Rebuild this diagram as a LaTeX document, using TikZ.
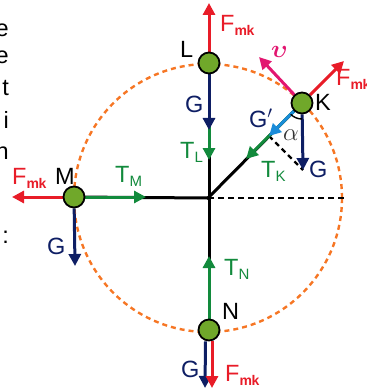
\documentclass[tikz,border=0pt]{standalone}
\usepackage{bm}
\usepackage{fontspec}
\setmainfont{Liberation Sans}
\usepackage{tikz}
\usetikzlibrary{arrows.meta,backgrounds}
\definecolor{forcered}{RGB}{232,28,40}
\definecolor{gnavy}{RGB}{14,30,100}
\definecolor{tgreen}{RGB}{18,138,60}
\definecolor{gblue}{RGB}{26,140,218}
\definecolor{vmagenta}{RGB}{226,22,112}
\definecolor{pathorange}{RGB}{246,118,36}
\definecolor{ballgreen}{RGB}{112,168,42}
\newcommand{\lowsub}[1]{\raisebox{-4pt}{\fontsize{15}{15}\selectfont #1}}
\newcommand{\mksub}{\raisebox{-4pt}{\fontsize{14}{14}\selectfont\bfseries m\kern-0.3pt k}}
\tikzset{
  ball/.style={circle, draw=black, line width=1.8pt, fill=ballgreen, minimum size=21pt, inner sep=0pt},
  rope/.style={line width=3pt, draw=black, line cap=rect},
  force/.style={-{Triangle[length=12pt,width=12pt]}, line width=3pt, draw=#1},
  lbl/.style={font=\fontsize{23.5}{26}\selectfont, text=#1, inner sep=0pt, anchor=base west},
  lbl/.default={black},
  frag/.style={font=\fontsize{23.5}{26}\selectfont, inner sep=0pt, anchor=base east}
}

\begin{document}
\begin{tikzpicture}[x=1pt,y=-1pt]
  \useasboundingbox (0,0) rectangle (366,390);
  \node[frag] (c1) at (9,37) {e};
  \node[frag] (c2) at (9,64) {e};
  \node[frag] (c3) at (9,96) {t};
  \node[frag] (c4) at (9,129) {i};
  \node[frag] (c5) at (9,159) {n};
  \node[frag] (c6) at (9,243) {:};

  \coordinate (O) at (208,198);
  \coordinate (rim) at (345,198);
  \node[ball] (L) at (209,63) {};
  \node[ball] (M) at (74,197) {};
  \node[ball] (N) at (209,330) {};
  \node[ball] (K) at (302,103) {};

  \coordinate (fLtip) at (209,3);
  \coordinate (gLtip) at (209,130);
  \coordinate (tLtip) at (209,160);
  \coordinate (fMtip) at (12,197);
  \coordinate (tMtip) at (146,197);
  \coordinate (gMtip) at (75,266);
  \coordinate (tNtip) at (209,256);
  \coordinate (gNtip) at (205,388);
  \coordinate (fNtip) at (212,388);
  \coordinate (fKtip) at (344,61);
  \coordinate (vKtip) at (259,57);
  \coordinate (gKtip) at (303,170);
  \coordinate (tKtip) at (246,159);
  \coordinate (gpKtip) at (269,136);

  \begin{scope}[on background layer]
    \draw[pathorange, line width=2.4pt, dash pattern=on 5pt off 4pt] (O) circle[radius=134pt];
    \draw[black, line width=2.6pt, dash pattern=on 6pt off 4pt] (O) -- (rim);
    \draw[rope] (L) -- (N);
    \draw[rope] (M) -- (O);
    \draw[rope] (K) -- (O);
    \draw[force=forcered] (L) -- (fLtip);
    \draw[force=tgreen] (L) -- (tLtip);
    \draw[force=gnavy] (L) -- (gLtip);
    \draw[force=forcered] (M) -- (fMtip);
    \draw[force=tgreen] (M) -- (tMtip);
    \draw[force=gnavy] (M) -- (gMtip);
    \draw[force=tgreen] (N) -- (tNtip);
    \draw[force=gnavy] ([xshift=-3.5pt]N.south) -- (gNtip);
    \draw[force=forcered] ([xshift=3pt]N.south) -- (fNtip);
    \draw[force=forcered] (K) -- (fKtip);
    \draw[force=vmagenta] (K) -- (vKtip);
    \draw[black, line width=2.4pt, dash pattern=on 5pt off 4pt] (gpKtip) -- (gKtip);
    \draw[force=tgreen] (K) -- (tKtip);
    \draw[force=gblue] (K) -- (gpKtip);
    \draw[force=gnavy] (K) -- (gKtip);
  \end{scope}
  \draw[line width=1.4pt] ([shift={(-90:16pt)}]K.center) arc[start angle=-90, end angle=-135, radius=16pt];

  \node[lbl=forcered] (fL) at (220,32) {F\mksub};
  \node[lbl] (lL) at (180,58) {L};
  \node[lbl=gnavy] (gL) at (185,113) {G};
  \node[lbl=tgreen] (tL) at (180,158) {T\lowsub{L}};
  \node[lbl] (lM) at (55,184) {M};
  \node[lbl=forcered] (fM) at (12,184) {F\mksub};
  \node[lbl=tgreen] (tM) at (115,182) {T\lowsub{M}};
  \node[lbl=gnavy] (gM) at (47,254) {G};
  \node[lbl] (lN) at (222,319) {N};
  \node[lbl=tgreen] (tN) at (224,275) {T\lowsub{N}};
  \node[lbl=gnavy] (gN) at (181,377) {G};
  \node[lbl=forcered] (fN) at (225,381) {F\mksub};
  \node[lbl] (lK) at (315,111) {K};
  \node[lbl=vmagenta] (vK) at (271,58) {$\bm{\upsilon}$};
  \node[lbl=forcered] (fK) at (336,86) {F\mksub};
  \node[lbl=gnavy] (gpK) at (249,128) {G$'$};
  \node[lbl=black!80] (aK) at (283,140) {$\alpha$};
  \node[lbl=gnavy] (gK) at (309,177) {G};
  \node[lbl=tgreen] (tK) at (261,177) {T\lowsub{K}};
\end{tikzpicture}
\end{document}
